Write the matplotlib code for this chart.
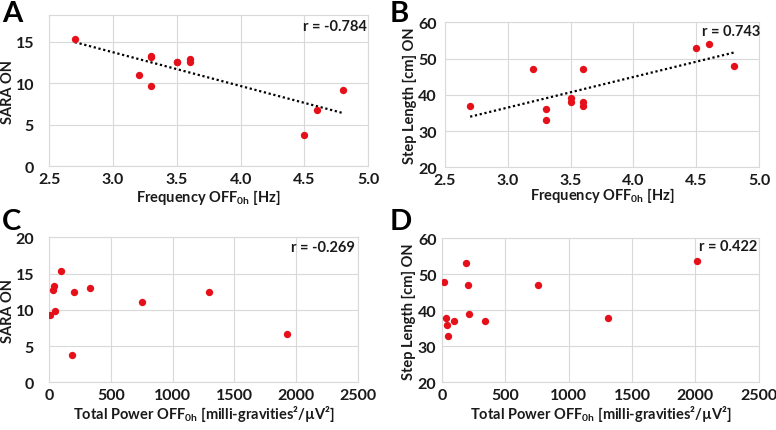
import numpy as np
import matplotlib
matplotlib.use("Agg")
import matplotlib.pyplot as plt

plt.rcParams['font.family'] = ['Lato', 'DejaVu Sans']
plt.rcParams['font.weight'] = 'bold'
plt.rcParams['mathtext.fontset'] = 'custom'
plt.rcParams['mathtext.rm'] = 'Lato'
plt.rcParams['mathtext.bf'] = 'Lato:bold'
plt.rcParams['mathtext.it'] = 'Lato:italic'

# panel A: frequency vs SARA
freq_a = [2.7, 3.2, 3.3, 3.3, 3.3, 3.5, 3.5, 3.6, 3.6, 4.5, 4.6, 4.8]
sara_a = [15.3, 11.0, 13.2, 13.3, 9.7, 12.5, 12.5, 12.9, 12.5, 3.7, 6.7, 9.2]

# panel B: frequency vs step length
freq_b = [2.7, 3.2, 3.3, 3.3, 3.5, 3.5, 3.6, 3.6, 3.6, 4.5, 4.6, 4.8]
step_b = [37, 47, 36, 33, 39, 38, 47, 38, 37, 53, 54, 48]

# panel C: total power vs SARA
power_c = [5, 46, 27, 41, 92, 186, 197, 334, 748, 1294, 1931]
sara_c = [9.3, 9.8, 12.7, 13.3, 15.3, 3.7, 12.5, 13.0, 11.1, 12.5, 6.7]

# panel D: total power vs step length
power_d = [13, 187, 203, 213, 34, 42, 47, 97, 337, 758, 1309, 2013]
step_d = [47.9, 53.1, 47.0, 38.9, 37.9, 35.8, 32.8, 36.9, 36.9, 47.0, 38.0, 53.8]

r_values = ['r = -0.784', 'r = 0.743', 'r = -0.269', 'r = 0.422']

freq_label = r'Frequency OFF$_{\mathbf{0h}}$ [Hz]'
power_label = r'Total Power OFF$_{\mathbf{0h}}$ [milli-gravities²/µV²]'

fig = plt.figure(figsize=(7.76, 4.31), dpi=100)

red = '#e5101a'
grid = '#d9d9d9'
ink = '#1a1a1a'


def style(ax, ypad):
    for s in ax.spines.values():
        s.set_color(grid)
        s.set_linewidth(0.8)
    ax.grid(True, color=grid, linewidth=0.8)
    ax.set_axisbelow(True)
    ax.tick_params(length=0, labelsize=11.5, colors=ink)
    ax.tick_params(axis='x', pad=4)
    ax.tick_params(axis='y', pad=ypad)
    for lab in ax.get_xticklabels() + ax.get_yticklabels():
        lab.set_fontweight('bold')


def trend(ax, x, y):
    k, b = np.polyfit(x, y, 1)
    xs = np.array([min(x), max(x)])
    ax.plot(xs, k * xs + b, color='black', lw=1.6, ls=(0, (1, 1.2)), zorder=2)


axA = fig.add_axes([0.0635, 0.6125, 0.411, 0.350])
axA.scatter(freq_a, sara_a, s=28, color=red, zorder=3, linewidths=0)
trend(axA, freq_a, sara_a)
axA.set_xlim(2.5, 5.0)
axA.set_ylim(0, 18.2)
axA.set_xticks([2.5, 3.0, 3.5, 4.0, 4.5, 5.0])
axA.set_yticks([0, 5, 10, 15])
axA.set_xlabel(freq_label, fontsize=10.5, fontweight='bold', labelpad=1, color=ink)
axA.set_ylabel('SARA ON', fontsize=10.5, fontweight='bold', labelpad=0, color=ink)
style(axA, 11)

axB = fig.add_axes([0.5735, 0.6095, 0.4046, 0.3364])
axB.scatter(freq_b, step_b, s=28, color=red, zorder=3, linewidths=0)
trend(axB, freq_b, step_b)
axB.set_xlim(2.5, 5.0)
axB.set_ylim(20, 60)
axB.set_xticks([2.5, 3.0, 3.5, 4.0, 4.5, 5.0])
axB.set_yticks([20, 30, 40, 50, 60])
axB.set_xlabel(freq_label, fontsize=10.5, fontweight='bold', labelpad=-1, color=ink)
axB.set_ylabel('Step Length [cm] ON', fontsize=10.5, fontweight='bold', labelpad=1, color=ink)
style(axB, 6)

axC = fig.add_axes([0.0635, 0.1107, 0.3974, 0.3364])
axC.scatter(power_c, sara_c, s=28, color=red, zorder=3, linewidths=0)
axC.set_xlim(0, 2500)
axC.set_ylim(0, 20)
axC.set_xticks([0, 500, 1000, 1500, 2000, 2500])
axC.set_yticks([0, 5, 10, 15, 20])
axC.set_xlabel(power_label, fontsize=10.5, fontweight='bold', labelpad=1, color=ink)
axC.set_ylabel('SARA ON', fontsize=10.5, fontweight='bold', labelpad=0, color=ink)
style(axC, 11)

axD = fig.add_axes([0.5696, 0.1107, 0.408, 0.334])
axD.scatter(power_d, step_d, s=28, color=red, zorder=3, linewidths=0)
axD.set_xlim(0, 2500)
axD.set_ylim(20, 60)
axD.set_xticks([0, 500, 1000, 1500, 2000, 2500])
axD.set_yticks([20, 30, 40, 50, 60])
axD.set_xlabel(power_label, fontsize=10.5, fontweight='bold', labelpad=1, color=ink)
axD.set_ylabel('Step Length [cm] ON', fontsize=10.5, fontweight='bold', labelpad=1, color=ink)
style(axD, 4)

r_pos = [(0.995, 0.925), (1.005, 0.938), (0.99, 0.931), (0.995, 0.944)]
for ax, txt, (px, py) in zip([axA, axB, axC, axD], r_values, r_pos):
    ax.text(px, py, txt, transform=ax.transAxes, ha='right', va='center',
            fontsize=10.5, fontweight='bold', color=ink)

for lab, (fx, fy) in zip('ABCD', [(0.003, 0.998), (0.502, 0.998), (0.003, 0.515), (0.502, 0.515)]):
    fig.text(fx, fy, lab, fontsize=21, fontweight='bold', ha='left', va='top')

fig.savefig('out.png', dpi=100)
